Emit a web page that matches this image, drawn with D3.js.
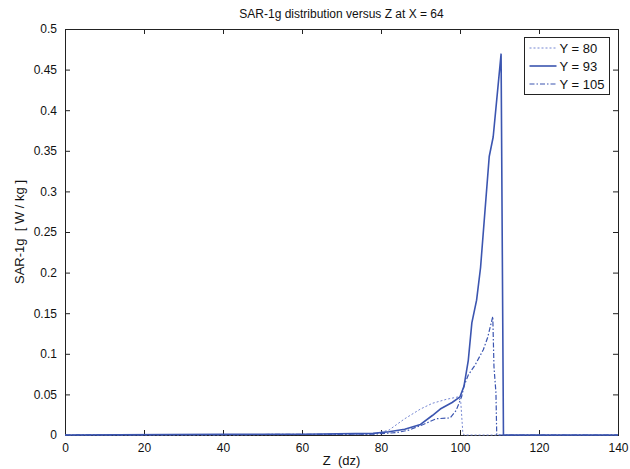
<!DOCTYPE html>
<html>
<head>
<meta charset="utf-8">
<style>
  body { margin: 0; background: #fff; }
  svg { display: block; font-family: "Liberation Sans", Arial, sans-serif; }
  .frame { fill: none; stroke: #222; stroke-width: 1; shape-rendering: crispEdges; }
  .tick line { stroke: #222; }
  .tick text { fill: #111; font-size: 12px; }
  .curve { fill: none; stroke-linejoin: round; }
</style>
</head>
<body>
<svg width="630" height="469"></svg>
<script src="https://d3js.org/d3.v7.min.js"></script>
<script>
// x positions (Z, in dz) and SAR-1g values
var zY80  = [0, 40, 78, 82, 86, 90, 93, 96.6, 99.6, 100.2, 100.7, 101, 140];
var sarY80 = [0, 0, 0.001, 0.006, 0.02, 0.032, 0.039, 0.044, 0.047, 0.04, 0.004, 0, 0];

var zY93  = [0, 40, 60, 78, 82, 86, 90, 93, 95, 98, 100, 101, 102.1, 103, 104.2, 105.2, 107.4, 108.4, 110.4, 111, 140];
var sarY93 = [0, 0.001, 0.001, 0.002, 0.004, 0.007, 0.013, 0.024, 0.032, 0.040, 0.047, 0.06, 0.092, 0.138, 0.166, 0.206, 0.343, 0.367, 0.469, 0, 0];

var zY105  = [0, 40, 78, 84, 87, 90.7, 94, 97.5, 99, 100.4, 101, 102.1, 103.8, 105.9, 107, 108.3, 108.6, 109.1, 109.3, 140];
var sarY105 = [0, 0.0005, 0.001, 0.003, 0.006, 0.013, 0.02, 0.021, 0.03, 0.047, 0.06, 0.074, 0.086, 0.105, 0.12, 0.146, 0.084, 0.052, 0, 0];

var seriesNames = ["Y = 80", "Y = 93", "Y = 105"];
var xTicks = [0, 20, 40, 60, 80, 100, 120, 140];
var yTicks = [0, 0.05, 0.1, 0.15, 0.2, 0.25, 0.3, 0.35, 0.4, 0.45, 0.5];
var yTickLabels = ["0", "0.05", "0.1", "0.15", "0.2", "0.25", "0.3", "0.35", "0.4", "0.45", "0.5"];

var margin = {top: 29, right: 12, bottom: 34, left: 65},
    width = 630 - margin.left - margin.right,
    height = 469 - margin.top - margin.bottom;

var x = d3.scaleLinear().domain([0, 140]).range([0, width]);
var y = d3.scaleLinear().domain([0, 0.5]).range([height, 0]);

var svg = d3.select("svg");
var g = svg.append("g")
    .attr("transform", "translate(" + margin.left + "," + margin.top + ")");

// axes, MATLAB style: ticks pointing inward on all four sides
g.append("g")
    .attr("transform", "translate(0," + height + ")")
    .call(d3.axisBottom(x).tickValues(xTicks).tickSizeInner(-5).tickSizeOuter(0).tickPadding(8))
    .call(function(a) { a.select(".domain").remove(); });
g.append("g")
    .call(d3.axisTop(x).tickValues(xTicks).tickSizeInner(-5).tickSizeOuter(0).tickFormat(""))
    .call(function(a) { a.select(".domain").remove(); });
g.append("g")
    .call(d3.axisLeft(y).tickValues(yTicks).tickSizeInner(-5).tickSizeOuter(0).tickPadding(8)
      .tickFormat(function(d, i) { return yTickLabels[i]; }))
    .call(function(a) { a.select(".domain").remove(); });
g.append("g")
    .attr("transform", "translate(" + width + ",0)")
    .call(d3.axisRight(y).tickValues(yTicks).tickSizeInner(-5).tickSizeOuter(0).tickFormat(""))
    .call(function(a) { a.select(".domain").remove(); });

g.append("rect").attr("class", "frame")
    .attr("x", 0.5).attr("y", 0.5).attr("width", width).attr("height", height);

var line = d3.line()
    .x(function(d) { return x(d[0]); })
    .y(function(d) { return y(d[1]); });

var styles = [
  {stroke: "#7486d2", width: 1, dash: "2,2"},
  {stroke: "#3b55b0", width: 1.6, dash: null},
  {stroke: "#3b55b0", width: 1.2, dash: "5,2,1.5,2"}
];
var series = [d3.zip(zY80, sarY80), d3.zip(zY93, sarY93), d3.zip(zY105, sarY105)];

series.forEach(function(s, i) {
  g.append("path").attr("class", "curve")
    .attr("d", line(s))
    .attr("stroke", styles[i].stroke)
    .attr("stroke-width", styles[i].width)
    .attr("stroke-dasharray", styles[i].dash);
});

// legend
var lg = svg.append("g").attr("transform", "translate(524.5,37.5)");
lg.append("rect").attr("width", 85).attr("height", 57)
    .attr("fill", "#fff").attr("stroke", "#222");
seriesNames.forEach(function(name, i) {
  var yy = 10.5 + i * 18;
  lg.append("line").attr("x1", 5).attr("x2", 32).attr("y1", yy).attr("y2", yy)
    .attr("stroke", styles[i].stroke)
    .attr("stroke-width", styles[i].width)
    .attr("stroke-dasharray", styles[i].dash);
  lg.append("text").attr("x", 35).attr("y", yy + 4.5)
    .attr("font-size", 13).attr("fill", "#111").text(name);
});

// title and axis labels
svg.append("text").attr("x", margin.left + width / 2).attr("y", 18)
    .attr("text-anchor", "middle").attr("font-size", 12).attr("fill", "#111")
    .text("SAR-1g distribution versus Z at X = 64");
svg.append("text").attr("x", margin.left + width / 2).attr("y", 465)
    .attr("text-anchor", "middle").attr("font-size", 13).attr("fill", "#111")
    .attr("xml:space", "preserve")
    .text("Z  (dz)");
svg.append("text")
    .attr("transform", "translate(24," + (margin.top + height / 2) + ") rotate(-90)")
    .attr("text-anchor", "middle").attr("font-size", 13).attr("fill", "#111")
    .attr("xml:space", "preserve")
    .text("SAR-1g  [ W / kg ]");
</script>
</body>
</html>
